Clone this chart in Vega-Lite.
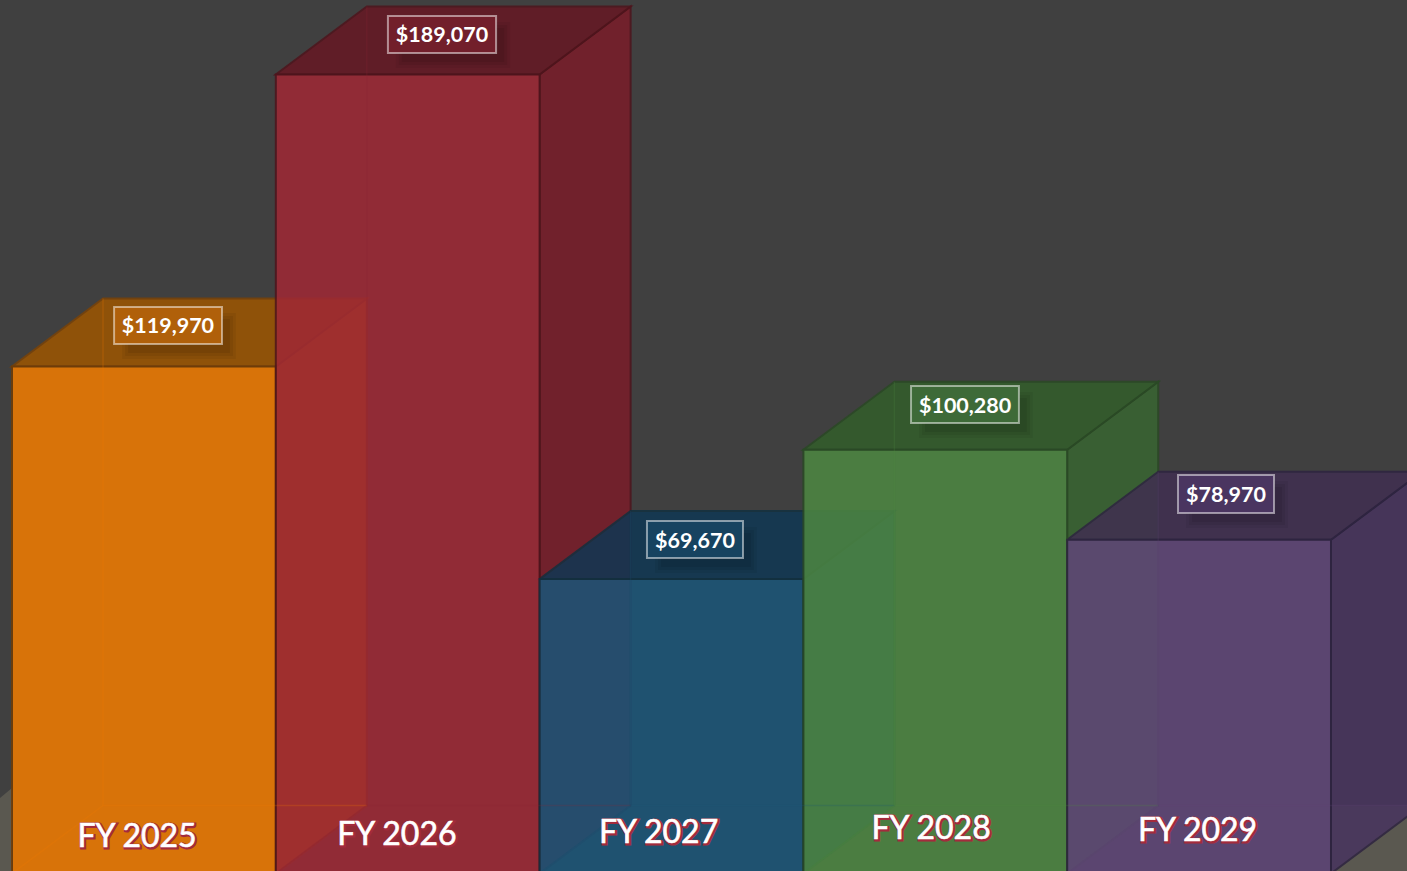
{
"$schema":"https://vega.github.io/schema/vega-lite/v6.json",
"width":1407,"height":871,"autosize":"none","padding":0,"background":"#404040",
"config":{"view":{"stroke":null}},
"datasets":{
"floor":[{"part":"left","x":-0.0455,"top":17866},{"part":"left","x":0,"top":20232},{"part":"right","x":5,"top":16090},{"part":"right","x":5.2881,"top":16090}],
"sides":[
{"fy":"FY 2025","x":1,"top":119970,"bottom":0},{"fy":"FY 2025","x":1.345,"top":136060,"bottom":16090},
{"fy":"FY 2026","x":2,"top":189070,"bottom":0},{"fy":"FY 2026","x":2.345,"top":205160,"bottom":16090},
{"fy":"FY 2027","x":3,"top":69670,"bottom":0},{"fy":"FY 2027","x":3.345,"top":85760,"bottom":16090},
{"fy":"FY 2028","x":4,"top":100280,"bottom":0},{"fy":"FY 2028","x":4.345,"top":116370,"bottom":16090},
{"fy":"FY 2029","x":5,"top":78970,"bottom":0},{"fy":"FY 2029","x":5.345,"top":95060,"bottom":16090}],
"tops":[
{"fy":"FY 2025","y":119970,"x0":0,"x1":1},{"fy":"FY 2025","y":136060,"x0":0.345,"x1":1.345},
{"fy":"FY 2026","y":189070,"x0":1,"x1":2},{"fy":"FY 2026","y":205160,"x0":1.345,"x1":2.345},
{"fy":"FY 2027","y":69670,"x0":2,"x1":3},{"fy":"FY 2027","y":85760,"x0":2.345,"x1":3.345},
{"fy":"FY 2028","y":100280,"x0":3,"x1":4},{"fy":"FY 2028","y":116370,"x0":3.345,"x1":4.345},
{"fy":"FY 2029","y":78970,"x0":4,"x1":5},{"fy":"FY 2029","y":95060,"x0":4.345,"x1":5.345}],
"bars":[
{"fy":"FY 2025","value":119970,"x0":0,"x1":1,"bx0":0.387,"bx1":0.796,"by0":125296,"by1":134051,"cx":0.591,"cy":129674,"lx":0.474,"ly":9110},
{"fy":"FY 2026","value":189070,"x0":1,"x1":2,"bx0":1.425,"bx1":1.835,"by0":194155,"by1":202911,"cx":1.63,"cy":198533,"lx":1.459,"ly":9583},
{"fy":"FY 2027","value":69670,"x0":2,"x1":3,"bx0":2.407,"bx1":2.771,"by0":74657,"by1":83412,"cx":2.589,"cy":79034,"lx":2.451,"ly":10057},
{"fy":"FY 2028","value":100280,"x0":3,"x1":4,"bx0":3.408,"bx1":3.817,"by0":106602,"by1":115357,"cx":3.613,"cy":110979,"lx":3.484,"ly":11003},
{"fy":"FY 2029","value":78970,"x0":4,"x1":5,"bx0":4.42,"bx1":4.784,"by0":85305,"by1":94297,"cx":4.602,"cy":89800,"lx":4.494,"ly":10530}],
"edges":[
{"fy":"FY 2025","edge":"v1","x":0.345,"y":16090},{"fy":"FY 2025","edge":"v1","x":0.345,"y":136060},
{"fy":"FY 2025","edge":"f1","x":0.345,"y":16090},{"fy":"FY 2025","edge":"f1","x":1.345,"y":16090},
{"fy":"FY 2025","edge":"d1","x":0,"y":0},{"fy":"FY 2025","edge":"d1","x":0.345,"y":16090},
{"fy":"FY 2026","edge":"v2","x":1.345,"y":16090},{"fy":"FY 2026","edge":"v2","x":1.345,"y":205160},
{"fy":"FY 2026","edge":"f2","x":1.345,"y":16090},{"fy":"FY 2026","edge":"f2","x":2.345,"y":16090},
{"fy":"FY 2026","edge":"d2","x":1,"y":0},{"fy":"FY 2026","edge":"d2","x":1.345,"y":16090},
{"fy":"FY 2027","edge":"v3","x":2.345,"y":16090},{"fy":"FY 2027","edge":"v3","x":2.345,"y":85760},
{"fy":"FY 2027","edge":"f3","x":2.345,"y":16090},{"fy":"FY 2027","edge":"f3","x":3.345,"y":16090},
{"fy":"FY 2027","edge":"d3","x":2,"y":0},{"fy":"FY 2027","edge":"d3","x":2.345,"y":16090},
{"fy":"FY 2028","edge":"v4","x":3.345,"y":16090},{"fy":"FY 2028","edge":"v4","x":3.345,"y":116370},
{"fy":"FY 2028","edge":"f4","x":3.345,"y":16090},{"fy":"FY 2028","edge":"f4","x":4.345,"y":16090},
{"fy":"FY 2028","edge":"d4","x":3,"y":0},{"fy":"FY 2028","edge":"d4","x":3.345,"y":16090},
{"fy":"FY 2029","edge":"v5","x":4.345,"y":16090},{"fy":"FY 2029","edge":"v5","x":4.345,"y":95060},
{"fy":"FY 2029","edge":"f5","x":4.345,"y":16090},{"fy":"FY 2029","edge":"f5","x":5.345,"y":16090},
{"fy":"FY 2029","edge":"d5","x":4,"y":0},{"fy":"FY 2029","edge":"d5","x":4.345,"y":16090}]
},
"layer":[
{"data":{"name":"floor"},"mark":{"type":"area","fill":"#5A5850"},
 "encoding":{"x":{"field":"x","type":"quantitative","scale":{"domain":[-0.0455,5.2881],"nice":false,"zero":false},"axis":null},
 "y":{"field":"top","type":"quantitative","stack":null,"scale":{"domain":[592,206696],"nice":false,"zero":false},"axis":null},
 "y2":{"datum":0},"detail":{"field":"part"}}},
{"data":{"name":"sides"},"mark":{"type":"area","opacity":0.86,"strokeWidth":2},
 "encoding":{"x":{"field":"x","type":"quantitative","scale":{"domain":[-0.0455,5.2881],"nice":false,"zero":false},"axis":null},
 "y":{"field":"top","type":"quantitative","stack":null,"scale":{"domain":[592,206696],"nice":false,"zero":false},"axis":null},
 "y2":{"field":"bottom"},
 "color":{"field":"fy","type":"nominal","legend":null,"scale":{"domain":["FY 2025","FY 2026","FY 2027","FY 2028","FY 2029"],"range":["#B06000","#7A1D29","#123F5E","#396531","#48345E"]}},
 "stroke":{"field":"fy","type":"nominal","legend":null,"scale":{"domain":["FY 2025","FY 2026","FY 2027","FY 2028","FY 2029"],"range":["#7A4308","#4F141C","#12303F","#2A4A25","#2E2440"]}}}},
{"data":{"name":"tops"},"mark":{"type":"area","orient":"horizontal","opacity":0.86,"strokeWidth":2},
 "encoding":{"y":{"field":"y","type":"quantitative","scale":{"domain":[592,206696],"nice":false,"zero":false},"axis":null},
 "x":{"field":"x0","type":"quantitative","stack":null,"scale":{"domain":[-0.0455,5.2881],"nice":false,"zero":false},"axis":null},
 "x2":{"field":"x1"},
 "color":{"field":"fy","type":"nominal","legend":null,"scale":{"domain":["FY 2025","FY 2026","FY 2027","FY 2028","FY 2029"],"range":["#9C5500","#661823","#103753","#335E2B","#402F51"]}},
 "stroke":{"field":"fy","type":"nominal","legend":null,"scale":{"domain":["FY 2025","FY 2026","FY 2027","FY 2028","FY 2029"],"range":["#7A4308","#4F141C","#12303F","#2A4A25","#2E2440"]}}}},
{"data":{"name":"bars"},"mark":{"type":"rect","fill":"#000000","opacity":0.05,"xOffset":8,"x2Offset":14,"yOffset":6,"y2Offset":15},
 "encoding":{"x":{"field":"bx0","type":"quantitative","scale":{"domain":[-0.0455,5.2881],"nice":false,"zero":false},"axis":null},"x2":{"field":"bx1"},
 "y":{"field":"by1","type":"quantitative","scale":{"domain":[592,206696],"nice":false,"zero":false},"axis":null},"y2":{"field":"by0"}}},
{"data":{"name":"bars"},"mark":{"type":"rect","fill":"#000000","opacity":0.06,"xOffset":11,"x2Offset":11,"yOffset":9,"y2Offset":12},
 "encoding":{"x":{"field":"bx0","type":"quantitative","scale":{"domain":[-0.0455,5.2881],"nice":false,"zero":false},"axis":null},"x2":{"field":"bx1"},
 "y":{"field":"by1","type":"quantitative","scale":{"domain":[592,206696],"nice":false,"zero":false},"axis":null},"y2":{"field":"by0"}}},
{"data":{"name":"bars"},"mark":{"type":"rect","fill":"#000000","opacity":0.07,"xOffset":14,"x2Offset":8,"yOffset":12,"y2Offset":9},
 "encoding":{"x":{"field":"bx0","type":"quantitative","scale":{"domain":[-0.0455,5.2881],"nice":false,"zero":false},"axis":null},"x2":{"field":"bx1"},
 "y":{"field":"by1","type":"quantitative","scale":{"domain":[592,206696],"nice":false,"zero":false},"axis":null},"y2":{"field":"by0"}}},
{"data":{"name":"bars"},"mark":{"type":"rect","opacity":0.86,"strokeWidth":2},
 "encoding":{"x":{"field":"x0","type":"quantitative","scale":{"domain":[-0.0455,5.2881],"nice":false,"zero":false},"axis":null},"x2":{"field":"x1"},
 "y":{"field":"value","type":"quantitative","scale":{"domain":[592,206696],"nice":false,"zero":false},"axis":null},"y2":{"datum":0},
 "color":{"field":"fy","type":"nominal","legend":null,"scale":{"domain":["FY 2025","FY 2026","FY 2027","FY 2028","FY 2029"],"range":["#F27C00","#9F2835","#1A5578","#4D8742","#604678"]}},
 "stroke":{"field":"fy","type":"nominal","legend":null,"scale":{"domain":["FY 2025","FY 2026","FY 2027","FY 2028","FY 2029"],"range":["#6E3C08","#4F141C","#12303F","#2A4A25","#2E2440"]}}}},
{"data":{"name":"edges"},"mark":{"type":"line","strokeWidth":1.5,"opacity":0.22},
 "encoding":{"x":{"field":"x","type":"quantitative","scale":{"domain":[-0.0455,5.2881],"nice":false,"zero":false},"axis":null},
 "y":{"field":"y","type":"quantitative","stack":null,"scale":{"domain":[592,206696],"nice":false,"zero":false},"axis":null},
 "detail":{"field":"edge"},
 "stroke":{"field":"fy","type":"nominal","legend":null,"scale":{"domain":["FY 2025","FY 2026","FY 2027","FY 2028","FY 2029"],"range":["#F27C00","#8A2431","#1A5578","#4D8742","#604678"]}}}},
{"data":{"name":"bars"},"mark":{"type":"rect","stroke":"#FFFFFF","strokeOpacity":0.5,"strokeWidth":2},
 "encoding":{"x":{"field":"bx0","type":"quantitative","scale":{"domain":[-0.0455,5.2881],"nice":false,"zero":false},"axis":null},"x2":{"field":"bx1"},
 "y":{"field":"by1","type":"quantitative","scale":{"domain":[592,206696],"nice":false,"zero":false},"axis":null},"y2":{"field":"by0"},
 "color":{"field":"fy","type":"nominal","legend":null,"scale":{"domain":["FY 2025","FY 2026","FY 2027","FY 2028","FY 2029"],"range":["#B0600A","#721F2B","#174360","#3E6A38","#4A3560"]}}}},
{"data":{"name":"bars"},"mark":{"type":"text","font":"Lato","fontSize":21.5,"fontWeight":"bold","fill":"#FFFFFF","align":"center","baseline":"middle","dy":2},
 "encoding":{"x":{"field":"cx","type":"quantitative","scale":{"domain":[-0.0455,5.2881],"nice":false,"zero":false},"axis":null},
 "y":{"field":"cy","type":"quantitative","scale":{"domain":[592,206696],"nice":false,"zero":false},"axis":null},
 "text":{"field":"value","type":"quantitative","format":"$,.0f"}}},
{"data":{"name":"bars"},"mark":{"type":"text","font":"Lato","fontSize":32,"fontWeight":"normal","fill":"#A32B3C","stroke":"#A32B3C","strokeWidth":3,"align":"center","baseline":"middle","dx":1,"dy":3},
 "encoding":{"x":{"field":"lx","type":"quantitative","scale":{"domain":[-0.0455,5.2881],"nice":false,"zero":false},"axis":null},
 "y":{"field":"ly","type":"quantitative","scale":{"domain":[592,206696],"nice":false,"zero":false},"axis":null},
 "text":{"field":"fy","type":"nominal"}}},
{"data":{"name":"bars"},"mark":{"type":"text","font":"Lato","fontSize":32,"fontWeight":"normal","fill":"#FFFFFF","stroke":"#FFFFFF","strokeWidth":0.6,"align":"center","baseline":"middle","dy":2},
 "encoding":{"x":{"field":"lx","type":"quantitative","scale":{"domain":[-0.0455,5.2881],"nice":false,"zero":false},"axis":null},
 "y":{"field":"ly","type":"quantitative","scale":{"domain":[592,206696],"nice":false,"zero":false},"axis":null},
 "text":{"field":"fy","type":"nominal"}}}
],
"resolve":{"scale":{"color":"independent","stroke":"independent"}}
}
